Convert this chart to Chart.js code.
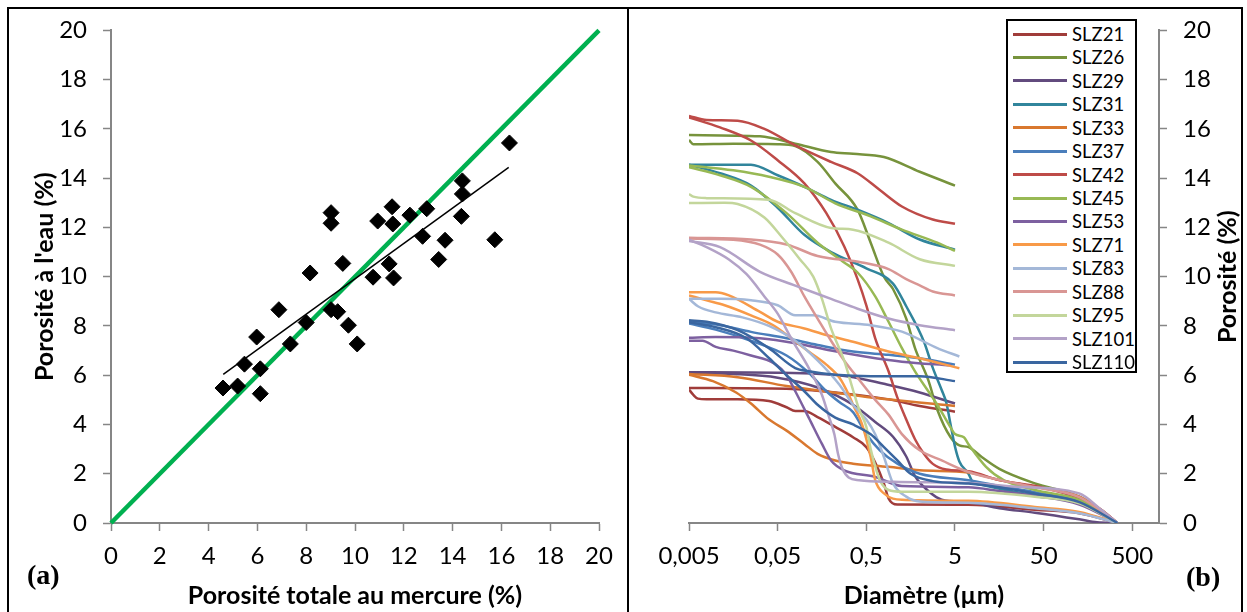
<!DOCTYPE html>
<html><head><meta charset="utf-8">
<script src="https://cdn.jsdelivr.net/npm/chart.js@4.4.1/dist/chart.umd.min.js"></script>
<style>
html,body{margin:0;padding:0;background:#fff;}
#wrap{position:relative;width:1247px;height:612px;overflow:hidden;background:#fff;}
canvas{position:absolute;top:0;}
#c1{left:0;}
#c2{left:627px;}
.frame{position:absolute;background:#000;z-index:5;}
.tag{position:absolute;font-family:"Liberation Serif","Times New Roman",serif;font-weight:bold;font-size:28px;line-height:30px;color:#000;z-index:6;}
#legend{position:absolute;left:1006px;top:19px;width:131px;height:354px;box-sizing:border-box;border:2px solid #000;background:#fff;z-index:4;}
.lrow{position:absolute;left:0;width:127px;height:24px;}
.lline{position:absolute;left:5px;width:54px;height:3px;top:10.5px;}
.ltext{position:absolute;left:64px;top:0;height:24px;line-height:24px;font-family:Lato,sans-serif;font-size:18.5px;color:#000;white-space:nowrap;}
</style></head>
<body><div id="wrap">
<canvas id="c1" width="627" height="612"></canvas>
<canvas id="c2" width="620" height="612"></canvas>
<div id="legend"></div>
<div class="frame" style="left:7px;top:7px;width:1236px;height:2px"></div>
<div class="frame" style="left:7px;top:7px;width:2px;height:605px"></div>
<div class="frame" style="left:627px;top:7px;width:2px;height:605px"></div>
<div class="frame" style="left:1241px;top:7px;width:2px;height:605px"></div>
<div class="tag" style="left:27px;top:560px">(a)</div>
<div class="tag" style="left:1186px;top:562px">(b)</div>
</div>
<script>
// ---------- Panel (a) data ----------
const scatterX = [4.59,5.19,5.47,5.97,6.12,6.12,6.88,7.35,8.0,8.16,9.02,9.02,9.02,9.29,9.5,9.73,10.09,10.74,10.93,11.4,11.52,11.55,11.58,12.25,12.77,12.94,13.43,13.69,14.4,14.4,14.36,15.73,16.33];
const scatterY = [5.48,5.56,6.45,7.55,6.26,5.25,8.66,7.27,8.14,10.15,12.6,12.17,8.66,8.58,10.54,8.03,7.27,9.98,12.26,10.52,12.84,12.14,9.95,12.5,11.64,12.76,10.7,11.48,13.89,13.36,12.45,11.5,15.43];
const trendX = [4.6, 16.3];
const trendY = [6.03, 14.44];
const identityX = [0, 20];
const identityY = [0, 20];
const titleXa = 'Porosité totale au mercure (%)';
const titleYa = "Porosité à l'eau (%)";

// ---------- Panel (b) data : [diameter µm, porosity %] ----------
const samples = ['SLZ21','SLZ26','SLZ29','SLZ31','SLZ33','SLZ37','SLZ42','SLZ45','SLZ53','SLZ71','SLZ83','SLZ88','SLZ95','SLZ101','SLZ110'];
const sampleColors = ['#A03C3A','#77933C','#624B7E','#31859C','#D9782F','#4A7EBB','#BE4B48','#98B954','#7D60A0','#F89A48','#A4B8D8','#D99694','#C3D69B','#B3A2C7','#3A66A0'];
const diamTicks = [0.005, 0.05, 0.5, 5, 50, 500];
const diamTickLabels = ['0,005','0,05','0,5','5','50','500'];
const titleXb = 'Diamètre (µm)';
const titleYb = 'Porosité (%)';

const SLZ21_intrusion = [[0.005,5.42],[0.0056,5.2],[0.0063,5.05],[0.0079,5.02],[0.0177,5.02],[0.0398,4.95],[0.063,4.7],[0.079,4.55],[0.1,4.55],[0.141,4.3],[0.223,3.9],[0.354,3.48],[0.5,3.08],[0.63,2.45],[0.79,1.6],[0.89,1.0],[1.12,0.75],[7.1,0.74],[39.8,0.54],[126,0.4],[340,0]];
const SLZ21_extrusion = [[0.005,5.48],[0.063,5.45],[0.354,5.22],[0.89,5.02],[2.0,4.75],[5.0,4.52]];
const SLZ26_intrusion = [[0.005,15.55],[0.0056,15.38],[0.0158,15.4],[0.05,15.38],[0.079,15.3],[0.141,14.66],[0.223,13.79],[0.398,12.72],[0.56,11.38],[0.79,10.0],[1.0,9.5],[1.41,8.3],[1.77,7.1],[2.5,5.8],[3.16,4.6],[4.46,3.48],[5.6,3.15],[7.1,3.08],[10,2.68],[15.8,2.2],[39.8,1.61],[126,1.07],[200,0.6],[340,0]];
const SLZ26_extrusion = [[0.005,15.75],[0.0316,15.7],[0.079,15.4],[0.2,15.06],[0.354,14.99],[0.79,14.86],[2.0,14.26],[5.0,13.7]];
const SLZ29_intrusion = [[0.005,6.1],[0.0158,6.05],[0.05,5.9],[0.141,5.5],[0.354,4.8],[0.63,4.1],[1.0,3.5],[1.41,2.7],[1.77,1.9],[2.5,1.3],[3.54,0.95],[7.1,0.85],[15.8,0.6],[39.8,0.42],[126,0.15],[200,0.03],[340,0]];
const SLZ29_extrusion = [[0.005,6.12],[0.05,6.1],[0.316,5.95],[0.79,5.65],[2.0,5.3],[5.0,4.85]];
const SLZ31_intrusion = [[0.005,14.55],[0.0112,14.2],[0.025,13.7],[0.05,12.8],[0.1,11.7],[0.2,11.0],[0.5,10.34],[1.0,9.72],[1.41,8.8],[2.23,7.37],[2.81,6.3],[3.54,5.4],[3.98,4.9],[4.46,4.0],[5.0,3.1],[5.6,2.5],[7.1,2.0],[7.9,1.67],[10,1.55],[25,1.25],[126,0.85],[340,0]];
const SLZ31_extrusion = [[0.005,14.55],[0.025,14.55],[0.05,14.12],[0.1,13.65],[0.2,13.12],[0.398,12.72],[0.89,12.18],[2.0,11.51],[5.0,11.1]];
const SLZ33_intrusion = [[0.005,6.02],[0.0093,5.76],[0.017,5.3],[0.025,4.85],[0.04,4.2],[0.063,3.75],[0.1,3.21],[0.141,2.81],[0.223,2.54],[0.354,2.41],[0.89,2.28],[2.0,2.14],[7.1,2.05],[15.8,1.74],[39.8,1.47],[126,1.07],[223,0.54],[340,0]];
const SLZ33_extrusion = [[0.005,6.05],[0.0177,5.92],[0.063,5.56],[0.223,5.29],[0.89,5.02],[5.0,4.75]];
const SLZ37_intrusion = [[0.005,8.1],[0.01,7.85],[0.025,7.4],[0.063,6.8],[0.112,6.1],[0.177,5.35],[0.25,4.9],[0.354,4.5],[0.5,3.61],[0.71,2.95],[1.12,2.41],[2.0,2.0],[7.1,1.74],[15.8,1.5],[39.8,1.25],[126,0.9],[340,0]];
const SLZ37_extrusion = [[0.005,8.17],[0.0112,8.03],[0.025,7.76],[0.063,7.5],[0.141,7.23],[0.354,6.96],[0.89,6.83],[2.0,6.69],[5.0,6.43]];
const SLZ42_intrusion = [[0.005,16.47],[0.0112,16.06],[0.025,15.53],[0.05,14.73],[0.1,13.79],[0.177,12.58],[0.281,11.24],[0.398,9.9],[0.5,8.84],[0.63,7.5],[0.89,6.16],[1.12,5.09],[1.41,4.2],[1.77,3.4],[2.23,2.81],[2.81,2.4],[3.98,2.17],[7.1,2.1],[15.8,1.74],[44.6,1.47],[126,1.0],[223,0.54],[340,0]];
const SLZ42_extrusion = [[0.005,16.53],[0.0079,16.36],[0.0177,16.33],[0.0354,16.0],[0.079,15.33],[0.2,14.66],[0.398,14.2],[0.71,13.52],[1.26,12.85],[2.81,12.32],[5.0,12.15]];
const SLZ45_intrusion = [[0.005,14.45],[0.0112,14.12],[0.025,13.65],[0.063,12.58],[0.141,11.38],[0.281,10.58],[0.398,10.17],[0.63,9.2],[0.89,8.17],[1.26,7.1],[1.77,6.16],[2.5,5.35],[3.16,4.8],[4.46,3.88],[5.0,3.61],[6.3,3.48],[7.1,3.2],[11.2,2.28],[17.7,1.74],[39.8,1.34],[126,0.94],[340,0]];
const SLZ45_extrusion = [[0.005,14.52],[0.0158,14.32],[0.0398,14.06],[0.1,13.65],[0.223,12.98],[0.56,12.45],[1.26,11.91],[3.16,11.38],[5.0,11.05]];
const SLZ53_intrusion = [[0.005,7.4],[0.0071,7.4],[0.01,7.15],[0.0158,7.0],[0.025,6.8],[0.0446,6.5],[0.063,6.0],[0.079,5.35],[0.112,4.28],[0.158,3.21],[0.2,2.54],[0.281,2.14],[0.63,1.87],[1.26,1.5],[7.1,1.45],[15.8,1.3],[39.8,1.1],[126,0.75],[340,0]];
const SLZ53_extrusion = [[0.005,7.52],[0.01,7.55],[0.0316,7.5],[0.079,7.3],[0.2,7.0],[0.5,6.75],[1.26,6.55],[4.5,6.4]];
const SLZ71_intrusion = [[0.005,9.24],[0.0079,9.04],[0.0126,8.84],[0.025,8.43],[0.0446,8.03],[0.071,7.5],[0.112,6.96],[0.177,6.43],[0.25,5.89],[0.316,5.22],[0.354,4.8],[0.446,4.02],[0.56,2.68],[0.63,1.74],[0.79,1.2],[1.26,0.94],[7.1,0.9],[39.8,0.65],[126,0.45],[340,0]];
const SLZ71_extrusion = [[0.005,9.37],[0.01,9.37],[0.0141,9.24],[0.0316,8.57],[0.05,8.17],[0.1,7.9],[0.177,7.63],[0.354,7.36],[0.89,6.96],[2.0,6.69],[5.6,6.28]];
const SLZ83_intrusion = [[0.005,9.1],[0.0063,8.8],[0.01,8.55],[0.02,8.35],[0.0398,8.0],[0.079,7.4],[0.141,6.6],[0.25,5.6],[0.354,4.8],[0.5,4.2],[0.63,3.6],[0.79,2.68],[1.0,1.61],[1.41,1.07],[2.0,0.87],[7.1,0.82],[39.8,0.6],[126,0.4],[340,0]];
const SLZ83_extrusion = [[0.005,9.1],[0.0112,9.1],[0.025,9.04],[0.05,8.84],[0.079,8.43],[0.126,8.43],[0.223,8.17],[0.56,8.03],[1.26,7.77],[3.16,7.1],[5.6,6.76]];
const SLZ88_intrusion = [[0.005,11.55],[0.0158,11.5],[0.0316,11.3],[0.05,10.9],[0.071,10.2],[0.1,9.2],[0.141,8.3],[0.2,7.4],[0.281,6.6],[0.398,5.9],[0.63,5.0],[0.89,4.4],[1.26,3.61],[2.0,2.95],[3.54,2.54],[7.1,2.07],[15.8,1.75],[39.8,1.45],[126,1.05],[340,0]];
const SLZ88_extrusion = [[0.005,11.58],[0.025,11.51],[0.063,11.31],[0.141,10.84],[0.446,10.58],[0.89,10.31],[1.41,9.9],[2.0,9.65],[2.81,9.4],[5.0,9.24]];
const SLZ95_intrusion = [[0.005,12.99],[0.0126,13.0],[0.0177,12.95],[0.0354,12.4],[0.056,11.6],[0.089,10.71],[0.126,10.0],[0.158,9.1],[0.2,7.9],[0.281,6.6],[0.354,5.4],[0.416,4.6],[0.5,3.9],[0.56,3.0],[0.63,2.3],[0.71,1.74],[0.89,1.34],[1.26,1.27],[7.1,1.27],[39.8,1.07],[126,0.8],[340,0]];
const SLZ95_extrusion = [[0.005,13.36],[0.0056,13.25],[0.0079,13.19],[0.0398,13.12],[0.079,12.58],[0.2,11.98],[0.354,11.91],[0.89,11.38],[2.0,10.71],[5.0,10.44]];
const SLZ101_intrusion = [[0.005,11.5],[0.0079,11.2],[0.0141,10.7],[0.0223,10.1],[0.0354,9.2],[0.05,8.5],[0.071,7.5],[0.112,6.3],[0.158,5.2],[0.19,4.3],[0.218,3.6],[0.24,2.8],[0.269,2.2],[0.316,1.85],[0.416,1.74],[1.0,1.67],[7.1,1.62],[25,1.47],[126,1.2],[223,0.54],[340,0]];
const SLZ101_extrusion = [[0.005,11.45],[0.0112,11.2],[0.0316,10.2],[0.079,9.64],[0.2,9.1],[0.398,8.7],[0.89,8.3],[2.0,8.03],[5.0,7.83]];
const SLZ110_intrusion = [[0.005,8.15],[0.01,7.95],[0.0223,7.5],[0.0398,6.7],[0.063,6.0],[0.1,5.35],[0.141,4.8],[0.223,4.28],[0.354,4.0],[0.56,3.6],[0.79,3.08],[1.12,2.54],[1.58,2.0],[2.81,1.7],[7.1,1.6],[15.8,1.45],[39.8,1.2],[126,0.85],[340,0]];
const SLZ110_extrusion = [[0.005,8.23],[0.0079,8.17],[0.0177,7.83],[0.0398,7.1],[0.079,6.29],[0.112,6.16],[0.223,6.02],[0.56,5.96],[2.0,5.96],[5.0,5.76]];

const curves = {
  SLZ21:[SLZ21_intrusion,SLZ21_extrusion], SLZ26:[SLZ26_intrusion,SLZ26_extrusion],
  SLZ29:[SLZ29_intrusion,SLZ29_extrusion], SLZ31:[SLZ31_intrusion,SLZ31_extrusion],
  SLZ33:[SLZ33_intrusion,SLZ33_extrusion], SLZ37:[SLZ37_intrusion,SLZ37_extrusion],
  SLZ42:[SLZ42_intrusion,SLZ42_extrusion], SLZ45:[SLZ45_intrusion,SLZ45_extrusion],
  SLZ53:[SLZ53_intrusion,SLZ53_extrusion], SLZ71:[SLZ71_intrusion,SLZ71_extrusion],
  SLZ83:[SLZ83_intrusion,SLZ83_extrusion], SLZ88:[SLZ88_intrusion,SLZ88_extrusion],
  SLZ95:[SLZ95_intrusion,SLZ95_extrusion], SLZ101:[SLZ101_intrusion,SLZ101_extrusion],
  SLZ110:[SLZ110_intrusion,SLZ110_extrusion]
};

// ---------- common styling ----------
const FONT = 'Lato';
const AXIS_GREY = '#868686';
const tickFont = {family: FONT, size: 24};
const titleFont = {family: FONT, size: 25, weight: 'bold'};
const gridStyle = {drawOnChartArea:false, drawTicks:true, tickLength:8, tickColor:AXIS_GREY, tickWidth:1.5};
const borderStyle = {display:true, color:AXIS_GREY, width:2};

// ---------- Chart (a) ----------
new Chart(document.getElementById('c1'), {
  type: 'scatter',
  data: {datasets: [
    {data: scatterX.map((x,i)=>({x:x, y:scatterY[i]})), pointStyle:'rectRot', pointRadius:8, backgroundColor:'#000', borderColor:'#000', borderWidth:1, showLine:false, order:0},
    {data: trendX.map((x,i)=>({x:x, y:trendY[i]})), showLine:true, borderColor:'#000', borderWidth:1.5, pointRadius:0, order:1},
    {data: identityX.map((x,i)=>({x:x, y:identityY[i]})), showLine:true, borderColor:'#00B050', borderWidth:4.5, pointRadius:0, order:2, clip:false}
  ]},
  options: {
    responsive:false, animation:false, events:[],
    layout:{padding:{top:25, right:28, bottom:0, left:0}},
    plugins:{legend:{display:false}, tooltip:{enabled:false}},
    scales:{
      x:{type:'linear', min:0, max:20,
         ticks:{stepSize:2, font:tickFont, color:'#000', padding:11, maxRotation:0},
         grid:gridStyle, border:borderStyle,
         title:{display:true, text:titleXa, font:titleFont, color:'#000', padding:{top:0,bottom:1}},
         afterFit(s){ s.height = 89; }},
      y:{type:'linear', min:0, max:20,
         ticks:{stepSize:2, font:tickFont, color:'#000', padding:16},
         grid:gridStyle, border:borderStyle,
         title:{display:true, text:titleYa, font:titleFont, color:'#000', padding:{top:30,bottom:0}},
         afterFit(s){ s.width = 111; }}
    }
  }
});

// ---------- Chart (b) ----------
const dsB = [];
samples.forEach((name, i) => {
  const [intr, extr] = curves[name];
  [intr, extr].forEach((arr, k) => {
    dsB.push({
      label: name + (k ? ' extrusion' : ''),
      data: arr.map(p => ({x:p[0], y:p[1]})),
      showLine:true, borderColor:sampleColors[i], borderWidth:2.5, pointRadius:0,
      cubicInterpolationMode:'monotone', order: -i
    });
  });
});

const rightTitle = {
  id:'rightTitle',
  afterDraw(chart){
    const {ctx, chartArea} = chart;
    ctx.save();
    ctx.font = 'bold 25px ' + FONT;
    ctx.fillStyle = '#000';
    ctx.textAlign = 'center';
    ctx.textBaseline = 'middle';
    ctx.translate(601, (chartArea.top + chartArea.bottom) / 2);
    ctx.rotate(-Math.PI / 2);
    ctx.fillText(titleYb, 0, 0);
    ctx.restore();
  }
};

new Chart(document.getElementById('c2'), {
  type:'scatter',
  data:{datasets: dsB},
  options:{
    responsive:false, animation:false, events:[],
    layout:{padding:{top:25, right:0, bottom:0, left:62}},
    plugins:{legend:{display:false}, tooltip:{enabled:false}},
    scales:{
      x:{type:'logarithmic', min:0.005, max:1000,
         afterBuildTicks(s){ s.ticks = diamTicks.map(v => ({value:v})); },
         ticks:{font:tickFont, color:'#000', padding:11, autoSkip:false, maxRotation:0,
                callback:(v, i) => diamTickLabels[i]},
         grid:gridStyle, border:borderStyle,
         title:{display:true, text:titleXb, font:titleFont, color:'#000', padding:{top:0,bottom:1}},
         afterFit(s){ s.height = 89; }},
      y:{type:'linear', position:'right', min:0, max:20,
         ticks:{stepSize:2, font:tickFont, color:'#000', padding:16},
         grid:gridStyle, border:borderStyle,
         afterFit(s){ s.width = 88; }}
    }
  },
  plugins:[rightTitle]
});

// ---------- legend ----------
const leg = document.getElementById('legend');
samples.forEach((name, i) => {
  const row = document.createElement('div');
  row.className = 'lrow';
  row.style.top = (1 + i * 23.43) + 'px';
  const ln = document.createElement('div');
  ln.className = 'lline';
  ln.style.background = sampleColors[i];
  const tx = document.createElement('div');
  tx.className = 'ltext';
  tx.textContent = name;
  row.appendChild(ln); row.appendChild(tx);
  leg.appendChild(row);
});
</script>
</body></html>
